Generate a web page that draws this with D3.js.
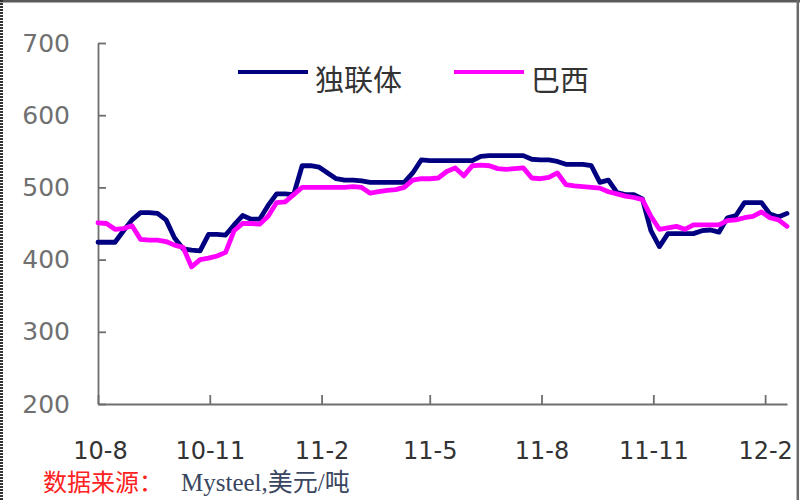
<!DOCTYPE html>
<html><head><meta charset="utf-8">
<script src="https://cdn.jsdelivr.net/npm/d3@7"></script>
<style>body{margin:0;background:#fff}svg{display:block}</style>
</head><body><svg id="c" width="800" height="500"></svg>
<script>
// ---- data (weekly readings, Aug 2010 – Feb 2012, USD/t) ----
const startDate = "2010-08-01";
const endDate = "2012-02-19";
const seriesNames = ["独联体", "巴西"];
const cisValues = [424,424,424,440,455,465,465,464,455,430,415,413,412,435,435,434,448,461,456,456,
  475,491,491,490,530,530,528,520,512,510,510,509,507,507,507,507,507,520,538,537,
  537,537,537,537,537,543,544,544,544,544,544,539,538,538,536,532,532,532,530,507,
  510,493,490,490,484,440,418,436,436,436,436,440,441,438,458,461,479,479,479,463,459,464];
const brazilValues = [451,450,442,443,447,428,427,427,425,420,417,390,400,402,405,410,440,450,450,449,
  460,479,480,490,500,500,500,500,500,500,501,500,492,494,496,497,500,510,512,512,
  513,522,527,516,530,531,530,526,525,526,527,513,512,514,520,504,502,501,500,499,
  494,491,488,486,483,460,442,444,446,442,448,448,448,448,454,455,458,460,466,458,455,446];
const yTickValues = [200, 300, 400, 500, 600, 700];
const xTickLabels = ["10-8", "10-11", "11-2", "11-5", "11-8", "11-11", "12-2"];
const sourceLabel = "数据来源：";
const sourceText = "Mysteel,美元/吨";
const seriesColors = ["#000080", "#ff00ff"];

// ---- build ----
const svg = d3.select("#c");
const parseDay = d3.timeParse("%Y-%m-%d");
const parseTick = d3.timeParse("%y-%m");
const t0 = parseDay(startDate);
const dates = cisValues.map((_, i) => d3.timeDay.offset(t0, i * 7));

const x = d3.scaleTime().domain([t0, parseDay(endDate)]).range([98, 787]);
const y = d3.scaleLinear().domain([200, 700]).range([404, 43]);

// frame
svg.append("line").attr("x1", 0).attr("x2", 800).attr("y1", 1.2).attr("y2", 1.2)
  .attr("stroke", "#5a5a5a").attr("stroke-width", 2.5);
svg.append("line").attr("x1", 797.8).attr("x2", 797.8).attr("y1", 0).attr("y2", 500)
  .attr("stroke", "#6a6a6a").attr("stroke-width", 2.5);
svg.append("line").attr("x1", 1.5).attr("x2", 1.5).attr("y1", 0).attr("y2", 500)
  .attr("stroke", "#333").attr("stroke-width", 3).attr("stroke-dasharray", "2,1");

// axes
const yAxis = d3.axisLeft(y).tickValues(yTickValues).tickSizeInner(-8).tickSizeOuter(0).tickPadding(28);
const gy = svg.append("g").attr("transform", "translate(98,0)").call(yAxis);
gy.selectAll("text").attr("font-family", "DejaVu Sans").attr("font-size", 25).attr("fill", "#707070");

const xAxis = d3.axisBottom(x).tickValues(xTickLabels.map(s => parseTick(s)))
  .tickFormat(d3.timeFormat("%y-%-m")).tickSizeInner(-9).tickSizeOuter(0).tickPadding(38);
const gx = svg.append("g").attr("transform", "translate(0,404)").call(xAxis);
gx.selectAll("text").attr("font-family", "DejaVu Sans").attr("font-size", 24).attr("fill", "#333");
gx.selectAll("text").filter((d, i) => i === 0).attr("dx", 2);

svg.selectAll(".domain, .tick line").attr("stroke", "#6e6e6e").attr("stroke-width", 1.8);

// lines
const lineGen = vals => d3.line().x((d, i) => x(dates[i])).y(d => y(d))(vals);
[cisValues, brazilValues].forEach((vals, k) => {
  svg.append("path").attr("d", lineGen(vals)).attr("fill", "none")
    .attr("stroke", seriesColors[k]).attr("stroke-width", 4.8)
    .attr("stroke-linejoin", "round").attr("stroke-linecap", "round");
});

// legend
const legendX = [238, 454];
seriesNames.forEach((n, k) => {
  svg.append("line").attr("x1", legendX[k]).attr("x2", legendX[k] + 70)
    .attr("y1", 72).attr("y2", 72).attr("stroke", seriesColors[k]).attr("stroke-width", 4);
  svg.append("text").attr("x", legendX[k] + 77).attr("y", 91).text(n)
    .attr("font-family", "Noto Sans CJK SC").attr("font-size", 29).attr("fill", "#333");
});

// source
svg.append("text").attr("x", 43).attr("y", 491).text(sourceLabel)
  .attr("font-family", "Noto Sans CJK SC").attr("font-size", 24).attr("fill", "#ff2020");
svg.append("text").attr("x", 181).attr("y", 491).text(sourceText)
  .attr("font-family", "Liberation Serif, Noto Sans CJK SC").attr("font-size", 25).attr("fill", "#3a4660");
</script></body></html>
